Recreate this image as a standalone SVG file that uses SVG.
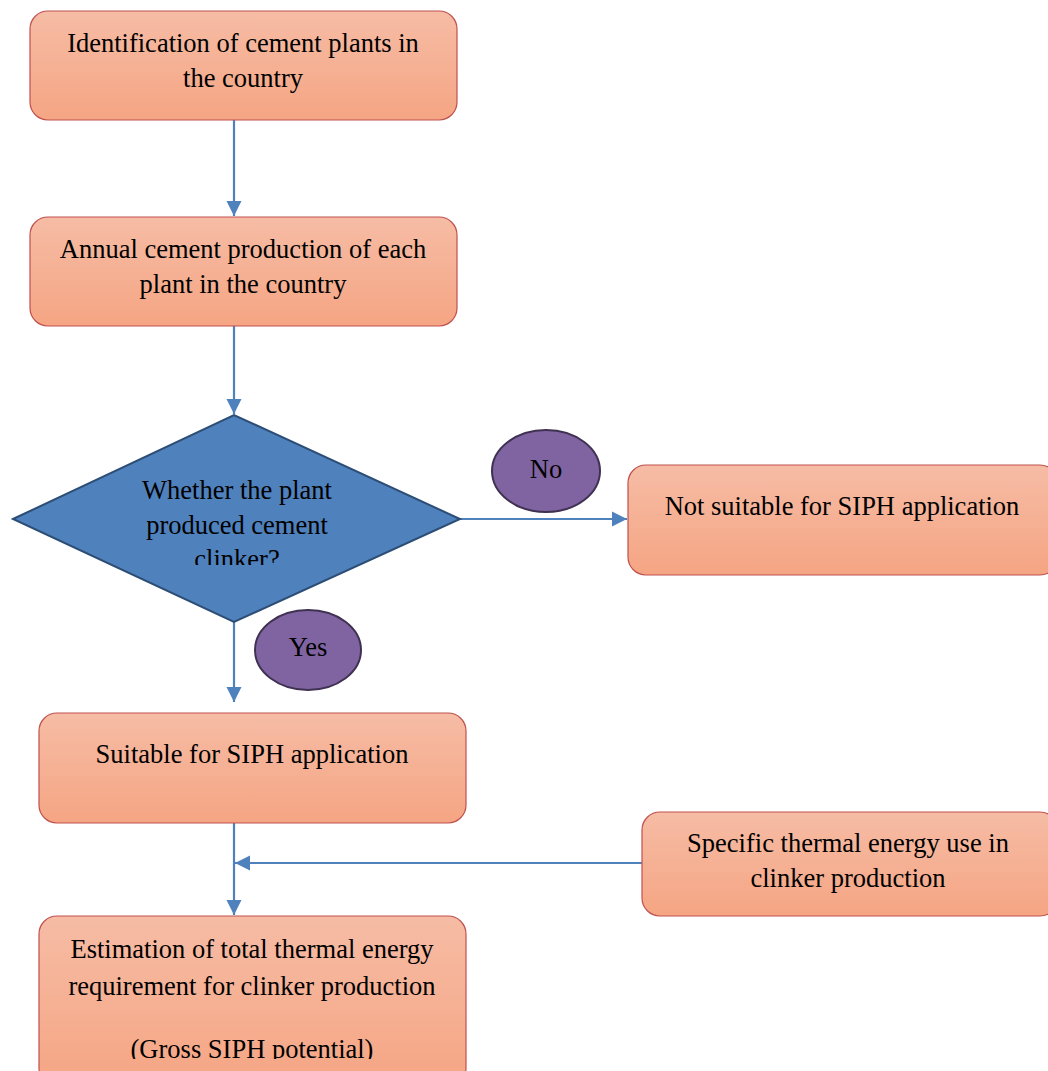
<svg xmlns="http://www.w3.org/2000/svg" width="1048" height="1071" viewBox="0 0 1048 1071">
<defs>
<linearGradient id="g" x1="0" y1="0" x2="0" y2="1">
<stop offset="0" stop-color="#f6bca5"/>
<stop offset="1" stop-color="#f5a583"/>
</linearGradient>
<marker id="ah" viewBox="0 0 10 10" refX="10" refY="5" markerWidth="7" markerHeight="7" orient="auto" markerUnits="strokeWidth">
<path d="M0,0 L10,5 L0,10 z" fill="#4f81bd"/>
</marker>
<clipPath id="cd"><rect x="0" y="400" width="480" height="165"/></clipPath>
<clipPath id="ce"><rect x="0" y="900" width="480" height="159"/></clipPath>
</defs>
<style>
.box{fill:url(#g);stroke:#c0504d;stroke-width:1.2}
.t{font-family:"Liberation Serif","Times New Roman",serif;font-size:26.5px;fill:#000;text-anchor:middle}
.c{fill:none;stroke:#4f81bd;stroke-width:2.2}
.oval{fill:#8064a2;stroke:#3f3151;stroke-width:2}
</style>
<g id="connectors">
<path class="c" d="M234,120 V216" marker-end="url(#ah)"/>
<path class="c" d="M234,326 V414" marker-end="url(#ah)"/>
<path class="c" d="M460,519 H627" marker-end="url(#ah)"/>
<path class="c" d="M234,622 V702" marker-end="url(#ah)"/>
<path class="c" d="M234,823 V915" marker-end="url(#ah)"/>
<path class="c" d="M642,863 H235" marker-end="url(#ah)"/>
</g>
<g id="n1">
<rect class="box" x="30" y="11" width="427" height="109" rx="18"/>
<text class="t" x="243" y="52">Identification of cement plants in</text>
<text class="t" x="243" y="87">the country</text>
</g>
<g id="n2">
<rect class="box" x="30" y="217" width="427" height="109" rx="18"/>
<text class="t" x="243" y="258">Annual cement production of each</text>
<text class="t" x="243" y="293">plant in the country</text>
</g>
<g id="n3">
<polygon points="13,519 234,415 460,519 234,622" fill="#4f81bd" stroke="#2c4d75" stroke-width="2"/>
<g clip-path="url(#cd)">
<text class="t" x="237" y="499">Whether the plant</text>
<text class="t" x="237" y="534">produced cement</text>
<text class="t" x="237" y="568">clinker?</text>
</g>
</g>
<g id="no">
<ellipse class="oval" cx="546" cy="471" rx="54" ry="41"/>
<text class="t" x="546" y="478">No</text>
</g>
<g id="n4">
<rect class="box" x="628" y="465" width="430" height="110" rx="18"/>
<text class="t" x="842" y="515">Not suitable for SIPH application</text>
</g>
<g id="yes">
<ellipse class="oval" cx="308" cy="650" rx="53" ry="40"/>
<text class="t" x="308" y="656">Yes</text>
</g>
<g id="n5">
<rect class="box" x="39" y="713" width="427" height="110" rx="18"/>
<text class="t" x="252" y="763">Suitable for SIPH application</text>
</g>
<g id="n6">
<rect class="box" x="642" y="812" width="416" height="104" rx="18"/>
<text class="t" x="848" y="852">Specific thermal energy use in</text>
<text class="t" x="848" y="887">clinker production</text>
</g>
<g id="n7">
<rect class="box" x="39" y="916" width="427" height="170" rx="18"/>
<g clip-path="url(#ce)">
<text class="t" x="252" y="958">Estimation of total thermal energy</text>
<text class="t" x="252" y="995">requirement for clinker production</text>
<text class="t" x="252" y="1058">(Gross SIPH potential)</text>
</g>
</g>
</svg>
